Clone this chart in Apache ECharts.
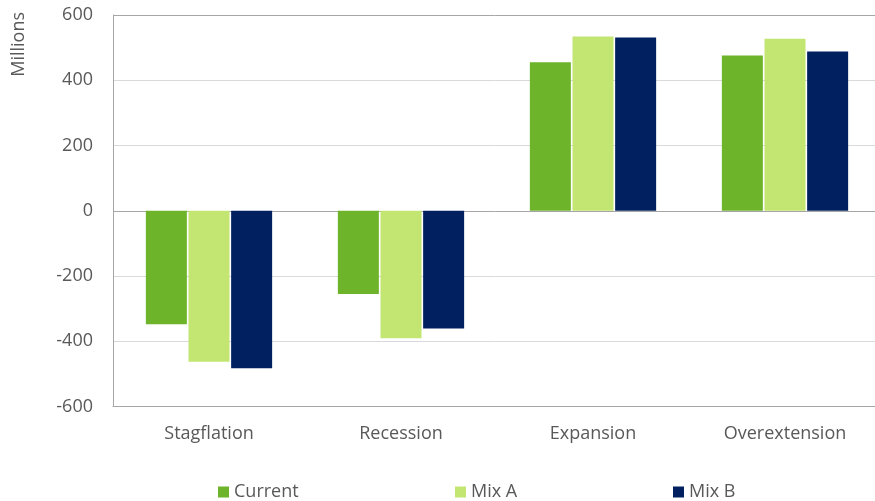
<!DOCTYPE html>
<html>
<head>
<meta charset="utf-8">
<script src="https://cdn.jsdelivr.net/npm/echarts@6/dist/echarts.min.js"></script>
<style>html,body{margin:0;padding:0;background:#fff;}#chart{width:875px;height:501px;}</style>
</head>
<body>
<div id="chart"></div>
<script>
const categories = ['Stagflation', 'Recession', 'Expansion', 'Overextension'];
const seriesNames = ['Current', 'Mix A', 'Mix B'];
const current = [-348, -255, 455, 476];
const mixA = [-463, -391, 534, 527];
const mixB = [-483, -361, 531, 488];
const yTicks = { min: -600, max: 600, interval: 200 };
const colors = ['#6DB42A', '#C2E671', '#002060'];

const chart = echarts.init(document.getElementById('chart'));
const font = '"Open Sans", sans-serif';
const data = [current, mixA, mixB];
const legendLefts = [218, 455, 673];
chart.setOption({
  animation: false,
  textStyle: { fontFamily: font },
  grid: { left: 113, width: 768, top: 15, bottom: 94.5, containLabel: false, outerBoundsMode: 'none' },
  graphic: [{
    type: 'text', left: 10, top: 12, rotation: Math.PI / 2,
    style: { text: 'Millions', fill: '#595959', font: '18px ' + font }
  }],
  legend: seriesNames.map((n, i) => ({
    left: legendLefts[i], top: 483, padding: 0, itemWidth: 11, itemHeight: 11,
    icon: 'rect',
    textStyle: { color: '#595959', fontSize: 18, fontFamily: font },
    data: [n]
  })),
  xAxis: {
    type: 'category', data: categories,
    axisLine: { onZero: false, lineStyle: { color: '#A6A6A6', width: 1 } },
    axisTick: { show: false },
    axisLabel: { color: '#595959', fontSize: 18, margin: 18, fontFamily: font },
    splitLine: { show: false }
  },
  yAxis: {
    type: 'value', min: yTicks.min, max: yTicks.max, interval: yTicks.interval,
    axisLine: { show: true, lineStyle: { color: '#A6A6A6', width: 1 } },
    axisTick: { show: false },
    axisLabel: { color: '#595959', fontSize: 18, margin: 20, fontFamily: font },
    splitLine: { show: true, lineStyle: { color: ['#A6A6A6', '#D9D9D9', '#D9D9D9', '#A6A6A6', '#D9D9D9', '#D9D9D9', '#A6A6A6'], width: 1 } }
  },
  series: seriesNames.map((n, i) => ({
    name: n, type: 'bar', data: data[i],
    barWidth: 41, barGap: '4%',
    itemStyle: { color: colors[i] }
  }))
});
</script>
</body>
</html>
